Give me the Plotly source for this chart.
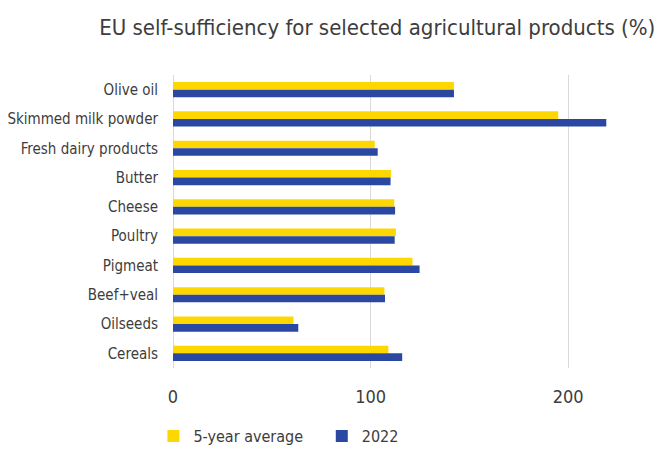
import plotly.graph_objects as go

categories = ["Olive oil", "Skimmed milk powder", "Fresh dairy products", "Butter", "Cheese",
              "Poultry", "Pigmeat", "Beef+veal", "Oilseeds", "Cereals"]
avg5 = [142.2, 195.0, 102.1, 110.3, 112.0, 112.8, 121.2, 107.0, 61.0, 109.0]
y2022 = [142.2, 219.3, 103.6, 110.1, 112.4, 112.2, 124.8, 107.3, 63.4, 116.0]
tick_vals = [0, 100, 200]
series_names = ["5-year average", "2022"]

FONT = "DejaVu Sans Condensed, Liberation Sans Narrow, Roboto, sans-serif"
YELLOW = "#FFD700"
BLUE = "#2A47A1"
TXT = "#3d3d3d"
PAD = "\u00a0" * 3

fig = go.Figure()
fig.add_trace(go.Bar(y=categories, x=avg5, orientation="h", name=series_names[0] + PAD,
                     marker=dict(color=YELLOW, line=dict(width=0))))
fig.add_trace(go.Bar(y=categories, x=y2022, orientation="h", name=series_names[1],
                     marker=dict(color=BLUE, line=dict(width=0))))

fig.update_layout(
    width=663, height=449,
    margin=dict(l=173, r=0, t=75, b=81),
    barmode="group", bargap=0.48, bargroupgap=0,
    plot_bgcolor="white", paper_bgcolor="white",
    font=dict(family=FONT, color=TXT),
    title=dict(text="EU self-sufficiency for selected agricultural products (%)",
               x=0.569, xref="container", xanchor="center",
               y=1 - 27 / 449, yref="container", yanchor="middle",
               font=dict(size=22, color=TXT, family=FONT)),
    xaxis=dict(range=[0, 248], tickvals=tick_vals, showgrid=True, gridcolor="#d9d9d9",
               gridwidth=1, zeroline=True, zerolinecolor="#d9d9d9", zerolinewidth=1,
               tickfont=dict(size=18, color=TXT), ticks="", ticklabelstandoff=16),
    yaxis=dict(autorange="reversed", tickfont=dict(size=15, color=TXT),
               ticks="", ticklabelstandoff=14, showgrid=False),
    legend=dict(orientation="h", x=-0.04, xanchor="left",
                y=1 - 436 / 449, yref="container", yanchor="middle",
                font=dict(size=16, color=TXT), itemwidth=30,
                traceorder="normal"),
    showlegend=True,
)

fig.write_html("out.html")
